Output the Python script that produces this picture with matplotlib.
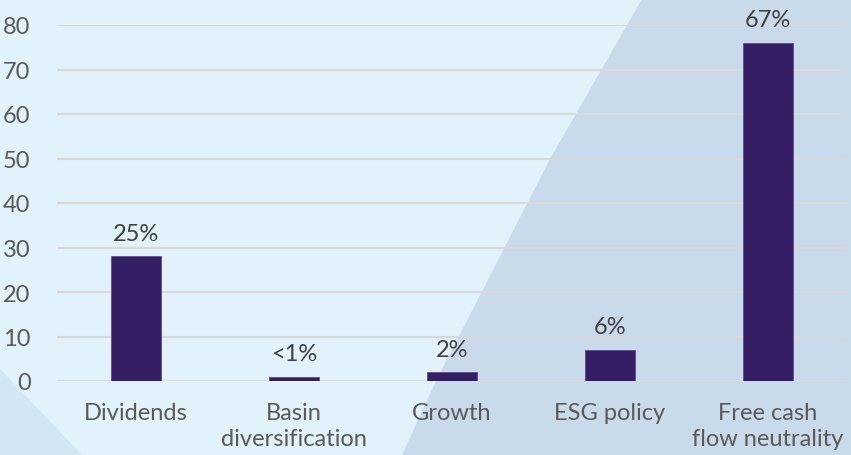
import matplotlib.pyplot as plt
from matplotlib.patches import Polygon

categories = ['Dividends', 'Basin\ndiversification', 'Growth', 'ESG policy', 'Free cash\nflow neutrality']
values = [28, 1, 2, 7, 76]
labels = ['25%', '<1%', '2%', '6%', '67%']
yticks = [0, 10, 20, 30, 40, 50, 60, 70, 80]

plt.rcParams['font.family'] = ['Lato', 'DejaVu Sans']

fig = plt.figure(figsize=(8.51, 4.56), dpi=100)
fig.patch.set_facecolor('#E1F2FB')

# background shapes in figure pixel coords (top-left origin)
W, H = 851, 456
def px(pts):
    return [(x / W, 1 - y / H) for x, y in pts]

fig.patches.append(Polygon(px([(642, 0), (851, 0), (851, 456), (402, 456), (437, 380), (550, 160)]),
                           closed=True, transform=fig.transFigure, facecolor='#C9DAEA',
                           edgecolor='none', zorder=0))
fig.patches.append(Polygon(px([(0, 370), (0, 456), (82, 456)]),
                           closed=True, transform=fig.transFigure, facecolor='#D3E6F3',
                           edgecolor='none', zorder=0))

ax = fig.add_axes([57 / W, 1 - 382 / H, (847 - 57) / W, (382 - 26) / H])
ax.set_facecolor('none')
ax.set_zorder(2)

x = range(len(categories))
bars = ax.bar(x, values, width=0.32, color='#351E63', edgecolor='#5B4B92', linewidth=0.6, zorder=3)

for b, lab in zip(bars, labels):
    ax.text(b.get_x() + b.get_width() / 2, b.get_height() + 2.8, lab,
            ha='center', va='bottom', fontsize=17, color='#404040')

ax.set_xlim(-0.5, len(categories) - 0.5)
ax.set_ylim(0, 80)
ax.set_yticks(yticks)
ax.yaxis.grid(True, color='#D9D9D9', linewidth=1.5, zorder=0)
ax.set_axisbelow(True)
for s in ax.spines.values():
    s.set_visible(False)
ax.tick_params(axis='both', length=0, labelsize=17, labelcolor='#5A5A5A')
ax.tick_params(axis='y', pad=19)
ax.tick_params(axis='x', pad=15)
ax.set_xticks(list(x))
ax.set_xticklabels(categories, linespacing=1.3)

fig.savefig('out.png', dpi=100, facecolor=fig.get_facecolor())
